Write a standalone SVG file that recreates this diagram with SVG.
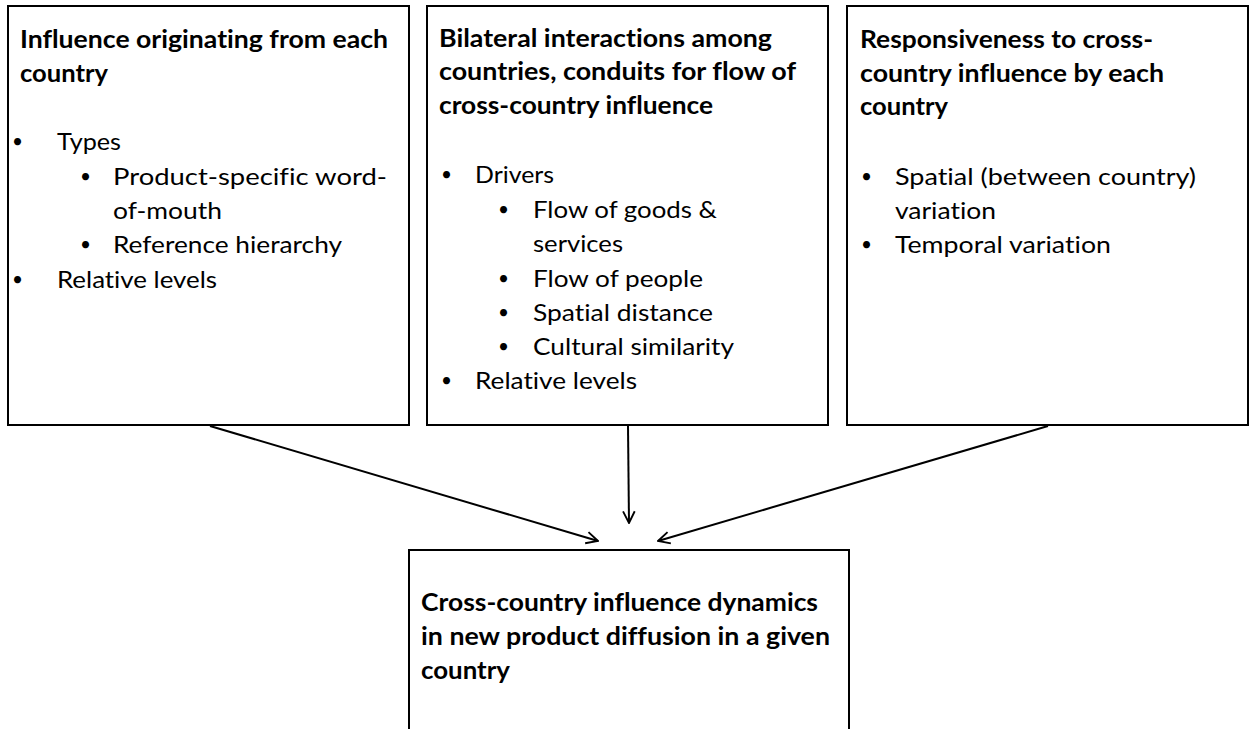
<svg xmlns="http://www.w3.org/2000/svg" width="1250" height="729" viewBox="0 0 1250 729">
<style>
.box{fill:#fff;stroke:#000;stroke-width:2}
text{font-family:Lato,"Open Sans","Liberation Sans",sans-serif;font-size:24px;fill:#000;font-variant-ligatures:none}
.t{font-weight:bold}
.b{font-size:19px}
.c{stroke:#000;stroke-width:2;fill:none}
</style>
<defs>
<marker id="ah" viewBox="0 0 12 12" refX="11" refY="6" markerWidth="7" markerHeight="7" orient="auto" markerUnits="strokeWidth">
<path d="M1,1 L11,6 L1,11" fill="none" stroke="#000" stroke-width="1.6"/>
</marker>
</defs>
<rect width="1250" height="729" fill="#fff"/>
<g id="node-origin">
<rect class="box" x="8" y="6" width="401" height="419"/>
<text class="t" x="20" y="48" textLength="368" lengthAdjust="spacingAndGlyphs">Influence originating from each</text>
<text class="t" x="20" y="82" textLength="88" lengthAdjust="spacingAndGlyphs">country</text>
<text class="b" x="12" y="148">•</text><text x="57" y="150" textLength="64" lengthAdjust="spacingAndGlyphs">Types</text>
<text class="b" x="80" y="183">•</text><text x="113" y="185" textLength="274" lengthAdjust="spacingAndGlyphs">Product-specific word-</text>
<text x="113" y="219" textLength="109" lengthAdjust="spacingAndGlyphs">of-mouth</text>
<text class="b" x="80" y="251">•</text><text x="113" y="253" textLength="229" lengthAdjust="spacingAndGlyphs">Reference hierarchy</text>
<text class="b" x="12" y="286">•</text><text x="57" y="288" textLength="160" lengthAdjust="spacingAndGlyphs">Relative levels</text>
</g>
<g id="node-bilateral">
<rect class="box" x="427" y="6" width="401" height="419"/>
<text class="t" x="439" y="47" textLength="333" lengthAdjust="spacingAndGlyphs">Bilateral interactions among</text>
<text class="t" x="439" y="80" textLength="357" lengthAdjust="spacingAndGlyphs">countries, conduits for flow of</text>
<text class="t" x="439" y="114" textLength="274" lengthAdjust="spacingAndGlyphs">cross-country influence</text>
<text class="b" x="441" y="181">•</text><text x="475" y="183" textLength="79" lengthAdjust="spacingAndGlyphs">Drivers</text>
<text class="b" x="498" y="216">•</text><text x="533" y="218" textLength="184" lengthAdjust="spacingAndGlyphs">Flow of goods &amp;</text>
<text x="533" y="252" textLength="90" lengthAdjust="spacingAndGlyphs">services</text>
<text class="b" x="498" y="285">•</text><text x="533" y="287" textLength="170" lengthAdjust="spacingAndGlyphs">Flow of people</text>
<text class="b" x="498" y="319">•</text><text x="533" y="321" textLength="180" lengthAdjust="spacingAndGlyphs">Spatial distance</text>
<text class="b" x="498" y="353">•</text><text x="533" y="355" textLength="201" lengthAdjust="spacingAndGlyphs">Cultural similarity</text>
<text class="b" x="441" y="387">•</text><text x="475" y="389" textLength="162" lengthAdjust="spacingAndGlyphs">Relative levels</text>
</g>
<g id="node-responsiveness">
<rect class="box" x="847" y="6" width="401" height="419"/>
<text class="t" x="860" y="48" textLength="293" lengthAdjust="spacingAndGlyphs">Responsiveness to cross-</text>
<text class="t" x="860" y="82" textLength="304" lengthAdjust="spacingAndGlyphs">country influence by each</text>
<text class="t" x="860" y="115" textLength="88" lengthAdjust="spacingAndGlyphs">country</text>
<text class="b" x="861" y="183">•</text><text x="895" y="185" textLength="301" lengthAdjust="spacingAndGlyphs">Spatial (between country)</text>
<text x="895" y="219" textLength="101" lengthAdjust="spacingAndGlyphs">variation</text>
<text class="b" x="861" y="251">•</text><text x="895" y="253" textLength="216" lengthAdjust="spacingAndGlyphs">Temporal variation</text>
</g>
<g id="node-dynamics">
<rect class="box" x="409" y="550" width="440" height="190"/>
<text class="t" x="421" y="611" textLength="397" lengthAdjust="spacingAndGlyphs">Cross-country influence dynamics</text>
<text class="t" x="421" y="645" textLength="409" lengthAdjust="spacingAndGlyphs">in new product diffusion in a given</text>
<text class="t" x="421" y="679" textLength="89" lengthAdjust="spacingAndGlyphs">country</text>
</g>
<g id="connectors">
<line class="c" x1="210" y1="426" x2="598" y2="541" marker-end="url(#ah)"/>
<line class="c" x1="628" y1="426" x2="629" y2="523" marker-end="url(#ah)"/>
<line class="c" x1="1048" y1="426" x2="658" y2="541" marker-end="url(#ah)"/>
</g>
</svg>
